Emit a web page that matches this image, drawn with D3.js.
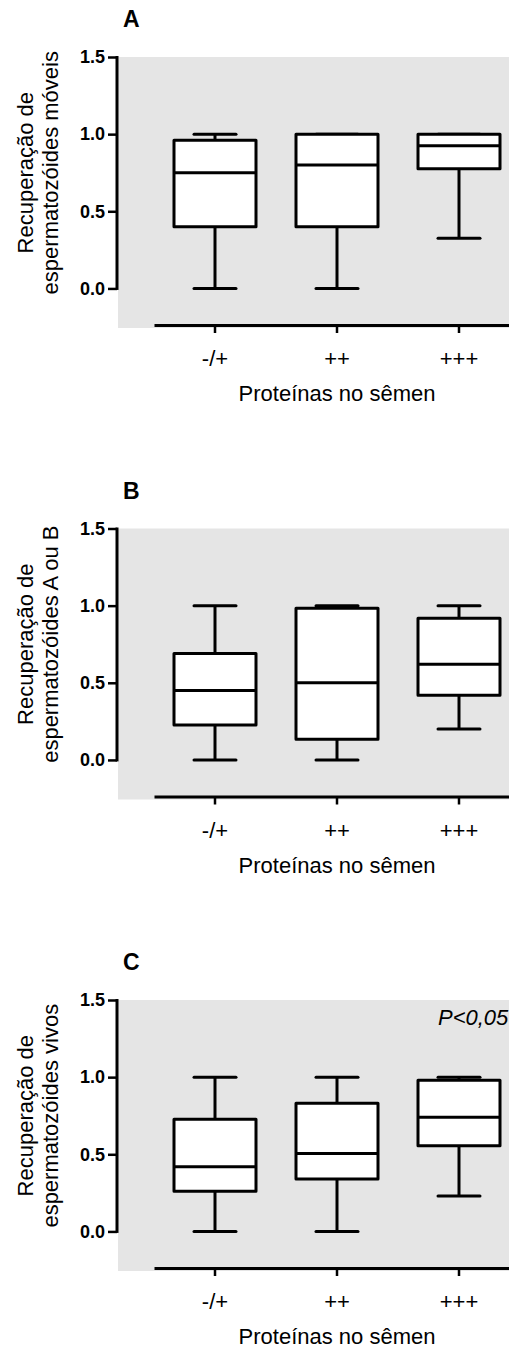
<!DOCTYPE html>
<html>
<head>
<meta charset="utf-8">
<script src="https://cdn.jsdelivr.net/npm/d3@7"></script>
<style>
  body { margin: 0; background: #fff; }
  text { font-family: "Liberation Sans", Arial, sans-serif; }
</style>
</head>
<body>
<div id="chart_container"></div>
<script>
// categories on the x axis
const categories = ["-/+", "++", "+++"];
const yTicks = [0, 0.5, 1.0, 1.5];
const panelLabels = ["A", "B", "C"];
const yTitles = [
  ["Recuperação de", "espermatozóides móveis"],
  ["Recuperação de", "espermatozóides A ou B"],
  ["Recuperação de", "espermatozóides vivos"]
];
const xTitle = "Proteínas no sêmen";
const pNotes = ["", "", "P<0,05"];

// box stats per category: [min, q1, median, q3, max]
const moveis = [[0, 0.40, 0.75, 0.96, 1.0], [0, 0.40, 0.80, 1.0, 1.0], [0.325, 0.775, 0.925, 1.0, 1.0]];
const aOuB = [[0, 0.227, 0.45, 0.69, 1.0], [0, 0.134, 0.50, 0.983, 1.0], [0.20, 0.42, 0.62, 0.918, 1.0]];
const vivos = [[0, 0.26, 0.42, 0.727, 1.0], [0, 0.34, 0.505, 0.83, 1.0], [0.23, 0.555, 0.74, 0.98, 1.0]];
const panels = [moveis, aOuB, vivos];

const width = 509, height = 1350;
const svg = d3.select("#chart_container").append("svg")
  .attr("width", width)
  .attr("height", height);

const x = d3.scaleBand().domain(categories).range([154, 520]);
const y = d3.scaleLinear().domain([-0.25, 1.5]).range([270, 0]);
const boxW = 82, capW = 42;

panels.forEach((stats, i) => {
  let top = 57 + i * 471.5;
  let g = svg.append("g").attr("transform", "translate(0," + top + ")");

  // gray plot background
  g.append("rect")
    .attr("x", 118).attr("y", y(1.5))
    .attr("width", 420).attr("height", y(-0.25) - y(1.5) + 1)
    .attr("fill", "#e5e5e5");

  // panel letter
  g.append("text")
    .attr("x", 123).attr("y", -30)
    .attr("font-size", 23).attr("font-weight", "bold")
    .text(panelLabels[i]);

  // y axis (line only from 0 to 1.5)
  let yAxis = g.append("g").attr("transform", "translate(117,0)")
    .call(d3.axisLeft(y).tickValues(yTicks).tickSize(9).tickPadding(3).tickFormat(d3.format(".1f")));
  yAxis.select(".domain").remove();
  yAxis.selectAll(".tick line").attr("stroke-width", 2.5);
  yAxis.selectAll(".tick text")
    .attr("font-size", 18).attr("font-weight", "bold").attr("fill", "#000")
    .style("font-family", "'Liberation Sans', Arial, sans-serif");
  yAxis.append("line")
    .attr("x1", 0).attr("x2", 0)
    .attr("y1", y(1.5) - 1).attr("y2", y(0) + 1.5)
    .attr("stroke", "#000").attr("stroke-width", 3);

  // x axis
  let xAxis = g.append("g").attr("transform", "translate(0," + (y(-0.25) - 2) + ")")
    .call(d3.axisBottom(x).tickSize(8).tickSizeOuter(0));
  xAxis.select(".domain").attr("stroke-width", 3);
  xAxis.selectAll(".tick line").attr("stroke-width", 2.5);
  xAxis.selectAll(".tick text")
    .attr("y", 41).attr("dy", 0)
    .attr("font-size", 22).attr("fill", "#000")
    .style("font-family", "'Liberation Sans', Arial, sans-serif");

  // x title
  g.append("text")
    .attr("x", 337).attr("y", y(-0.25) - 2 + 76)
    .attr("text-anchor", "middle").attr("font-size", 22)
    .text(xTitle);

  // y title, two lines
  let mid = (y(0) + y(1.5)) / 2;
  yTitles[i].forEach((t, k) => {
    g.append("text")
      .attr("transform", "translate(" + (33 + k * 25) + "," + mid + ") rotate(-90)")
      .attr("text-anchor", "middle").attr("font-size", 22)
      .text(t);
  });

  // p-value note
  if (pNotes[i]) {
    g.append("text")
      .attr("x", 438).attr("y", y(1.5) + 25)
      .attr("font-size", 22).attr("font-style", "italic")
      .text(pNotes[i]);
  }

  // boxes
  let boxes = g.selectAll(".box")
    .data(stats)
    .enter()
    .append("g")
    .attr("class", "box")
    .attr("transform", (d, j) => "translate(" + (x(categories[j]) + x.bandwidth() / 2) + ",0)");

  // whiskers
  boxes.append("line")
    .attr("x1", 0).attr("x2", 0)
    .attr("y1", d => y(d[0])).attr("y2", d => y(d[1]))
    .attr("stroke", "#000").attr("stroke-width", 3);
  boxes.append("line")
    .attr("x1", 0).attr("x2", 0)
    .attr("y1", d => y(d[3])).attr("y2", d => y(d[4]))
    .attr("stroke", "#000").attr("stroke-width", 3);
  // caps
  boxes.append("line")
    .attr("x1", -capW / 2).attr("x2", capW / 2)
    .attr("y1", d => y(d[0])).attr("y2", d => y(d[0]))
    .attr("stroke", "#000").attr("stroke-width", 3).attr("stroke-linecap", "round");
  boxes.append("line")
    .attr("x1", -capW / 2).attr("x2", capW / 2)
    .attr("y1", d => y(d[4])).attr("y2", d => y(d[4]))
    .attr("stroke", "#000").attr("stroke-width", 3).attr("stroke-linecap", "round");
  // box
  boxes.append("rect")
    .attr("x", -boxW / 2).attr("width", boxW)
    .attr("y", d => y(d[3])).attr("height", d => y(d[1]) - y(d[3]))
    .attr("fill", "#fff").attr("stroke", "#000").attr("stroke-width", 3)
    .attr("stroke-linejoin", "round");
  // median
  boxes.append("line")
    .attr("x1", -boxW / 2).attr("x2", boxW / 2)
    .attr("y1", d => y(d[2])).attr("y2", d => y(d[2]))
    .attr("stroke", "#000").attr("stroke-width", 3);
});
</script>
</body>
</html>
